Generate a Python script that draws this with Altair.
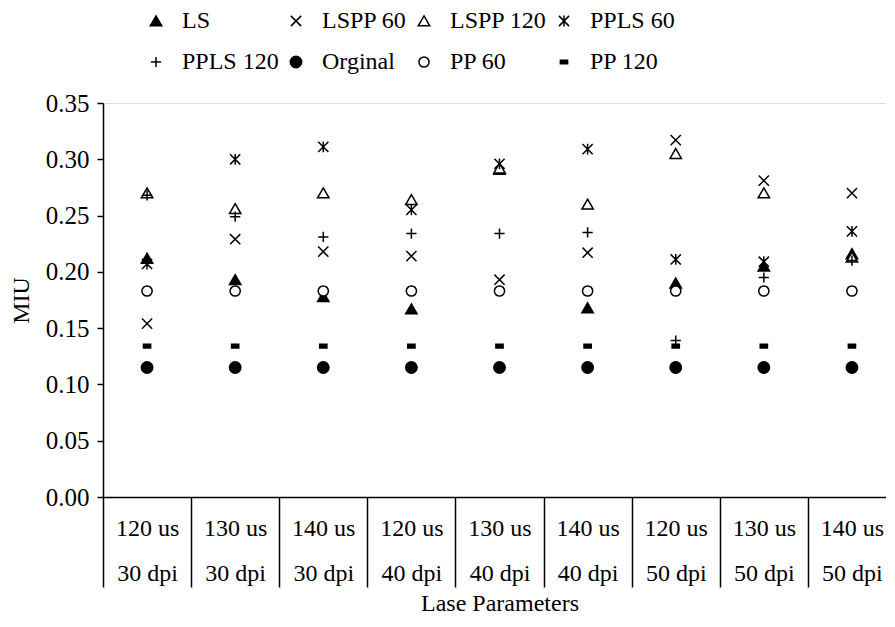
import altair as alt
import pandas as pd

categories = ["120 us|30 dpi", "130 us|30 dpi", "140 us|30 dpi",
              "120 us|40 dpi", "130 us|40 dpi", "140 us|40 dpi",
              "120 us|50 dpi", "130 us|50 dpi", "140 us|50 dpi"]
series = ["LS", "LSPP 60", "LSPP 120", "PPLS 60", "PPLS 120", "Orginal", "PP 60", "PP 120"]

ls       = [0.212, 0.193, 0.178, 0.167, 0.291, 0.168, 0.190, 0.205, 0.216]
lspp60   = [0.154, 0.229, 0.218, 0.214, 0.193, 0.217, 0.317, 0.281, 0.270]
lspp120  = [0.270, 0.256, 0.270, 0.264, 0.292, 0.260, 0.305, 0.270, 0.213]
ppls60   = [0.207, 0.300, 0.311, 0.255, 0.296, 0.309, 0.211, 0.209, 0.236]
ppls120  = [0.268, 0.249, 0.231, 0.234, 0.234, 0.235, 0.139, 0.195, 0.210]
orginal  = [0.115, 0.115, 0.115, 0.115, 0.115, 0.115, 0.115, 0.115, 0.115]
pp60     = [0.183, 0.183, 0.183, 0.183, 0.183, 0.183, 0.183, 0.183, 0.183]
pp120    = [0.134, 0.134, 0.134, 0.134, 0.134, 0.134, 0.134, 0.134, 0.134]

y_ticks = [0.0, 0.05, 0.10, 0.15, 0.20, 0.25, 0.30, 0.35]

rows = []
for name, vals in zip(series, [ls, lspp60, lspp120, ppls60, ppls120, orginal, pp60, pp120]):
    for c, v in zip(categories, vals):
        rows.append({"param": c, "series": name, "miu": v})
df = pd.DataFrame(rows)

tri = "M0,-0.85L0.95,0.8L-0.95,0.8Z"
xmark = "M-0.85,-0.85L0.85,0.85M-0.85,0.85L0.85,-0.85"
star = "M-0.85,-0.85L0.85,0.85M-0.85,0.85L0.85,-0.85M0,-0.9L0,0.9"
plus = "M-0.85,0L0.85,0M0,-0.85L0,0.85"
dot = "M0.95,0A0.95,0.95 0 1,1 -0.95,0A0.95,0.95 0 1,1 0.95,0Z"
ring = "M0.85,0A0.85,0.85 0 1,1 -0.85,0A0.85,0.85 0 1,1 0.85,0Z"
dash = "M-0.6,-0.3L0.6,-0.3L0.6,0.3L-0.6,0.3Z"
shapes = [tri, xmark, tri, star, plus, dot, ring, dash]
fills = ["black", "white", "white", "white", "white", "black", "white", "black"]
strokes = ["black"] * 8

FONT = "Liberation Serif"

legend = alt.Legend(
    title=None, orient="none", legendX=41, legendY=-94, direction="horizontal",
    columns=4, columnPadding=5, rowPadding=17, padding=0, gridAlign="each",
    labelFont=FONT, labelFontSize=24, labelColor="black", labelOffset=14,
    symbolSize=144, symbolStrokeColor="black", symbolStrokeWidth=1.5,
)

chart = alt.Chart(df).mark_point(
    strokeWidth=1.5, size=144, opacity=1, filled=False
).encode(
    x=alt.X("param:N", sort=categories,
            scale=alt.Scale(domain=categories, paddingInner=0, paddingOuter=0, range=[0, 793]),
            axis=alt.Axis(title="Lase Parameters", labelExpr="split(datum.label, '|')",
                          tickBand="extent", tickSize=90, tickWidth=1.5, tickColor="black",
                          domainColor="black", domainWidth=1.5,
                          labelPadding=-71, labelLineHeight=45, labelAngle=0,
                          labelOverlap=False, labelFont=FONT, labelFontSize=24,
                          labelColor="black", titleFont=FONT, titleFontSize=24,
                          titleFontWeight="normal", titleColor="black", titlePadding=4)),
    y=alt.Y("miu:Q", scale=alt.Scale(domain=[0, 0.35], nice=False, zero=True),
            axis=alt.Axis(title="MIU", values=y_ticks, format=".2f", grid=False,
                          tickSize=6, tickWidth=1.5, tickColor="black",
                          domainColor="black", domainWidth=1.5, labelPadding=8,
                          labelFont=FONT, labelFontSize=25, labelColor="black",
                          titleFont=FONT, titleFontSize=24, titleFontWeight="normal",
                          titleColor="black", titlePadding=12)),
    shape=alt.Shape("series:N", scale=alt.Scale(domain=series, range=shapes), legend=legend),
    fill=alt.Fill("series:N", scale=alt.Scale(domain=series, range=fills), legend=legend),
    stroke=alt.Stroke("series:N", scale=alt.Scale(domain=series, range=strokes), legend=legend),
    order=alt.Order("idx:Q"),
).transform_calculate(
    idx="indexof(" + str(series) + ", datum.series)"
).properties(
    width=783, height=394,
    autosize=alt.AutoSizeParams(type="none"),
    padding={"left": 95, "top": 95, "right": 0, "bottom": 118},
).configure_view(strokeWidth=0).configure(background="white")

chart.save("out.html", embed_options={"renderer": "svg", "actions": False})
